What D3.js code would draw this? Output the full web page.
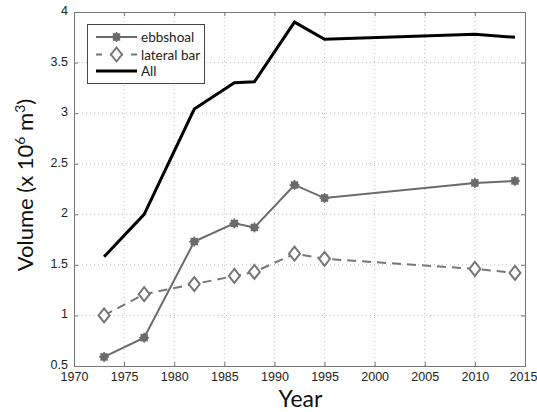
<!DOCTYPE html>
<html>
<head>
<meta charset="utf-8">
<script src="https://cdn.jsdelivr.net/npm/d3@7"></script>
<style>
  body { margin: 0; background: #fff; }
  svg { font-family: Lato, "Open Sans", sans-serif; }
</style>
</head>
<body>
<div id="chart"></div>
<script>
const years = [1973, 1977, 1982, 1986, 1988, 1992, 1995, 2010, 2014];
const ebbshoal = [0.59, 0.78, 1.73, 1.91, 1.87, 2.29, 2.16, 2.31, 2.33];
const lateralBar = [1.0, 1.21, 1.31, 1.39, 1.43, 1.61, 1.56, 1.46, 1.42];
const all = [1.58, 2.0, 3.04, 3.30, 3.31, 3.90, 3.73, 3.78, 3.75];
const xTicks = [1970, 1975, 1980, 1985, 1990, 1995, 2000, 2005, 2010, 2015];
const yTicks = [0.5, 1, 1.5, 2, 2.5, 3, 3.5, 4];

const width = 537, height = 412;
const margin = { top: 12, right: 12, bottom: 46, left: 74 };

const svg = d3.select('#chart').append('svg')
  .attr('width', width)
  .attr('height', height);

const x = d3.scaleLinear().domain([1970, 2015]).range([margin.left, width - margin.right]);
const y = d3.scaleLinear().domain([0.5, 4]).range([height - margin.bottom, margin.top]);

// grid
const grid = svg.append('g').attr('stroke', '#bbb').attr('stroke-dasharray', '1,3').attr('stroke-width', 1);
grid.selectAll('.gx').data(xTicks.slice(1, -1)).enter().append('line')
  .attr('x1', d => x(d)).attr('x2', d => x(d))
  .attr('y1', y(0.5)).attr('y2', y(4));
grid.selectAll('.gy').data(yTicks.slice(1, -1)).enter().append('line')
  .attr('x1', x(1970)).attr('x2', x(2015))
  .attr('y1', d => y(d)).attr('y2', d => y(d));

// axes (ticks inside, mirrored)
const axisColor = '#777';
const axBottom = svg.append('g').attr('transform', `translate(0,${y(0.5)})`)
  .call(d3.axisBottom(x).tickValues(xTicks).tickFormat(d3.format('d')).tickSizeInner(-4).tickSizeOuter(0).tickPadding(6));
const axTop = svg.append('g').attr('transform', `translate(0,${y(4)})`)
  .call(d3.axisTop(x).tickValues(xTicks).tickFormat('').tickSizeInner(-4).tickSizeOuter(0));
const axLeft = svg.append('g').attr('transform', `translate(${x(1970)},0)`)
  .call(d3.axisLeft(y).tickValues(yTicks).tickFormat(d3.format('')).tickSizeInner(-4).tickSizeOuter(0).tickPadding(6));
const axRight = svg.append('g').attr('transform', `translate(${x(2015)},0)`)
  .call(d3.axisRight(y).tickValues(yTicks).tickFormat('').tickSizeInner(-4).tickSizeOuter(0));

[axBottom, axTop, axLeft, axRight].forEach(g => {
  g.select('.domain').attr('stroke', axisColor);
  g.selectAll('.tick line').attr('stroke', axisColor);
  g.selectAll('.tick text').attr('fill', '#222').style('font-size', '12.5px');
});
axLeft.selectAll('.tick text').attr('dy', '0.2em');
// last year label sits right at the edge
axBottom.selectAll('.tick text').filter(d => d === 2015).attr('dx', -2);

// axis labels
svg.append('text')
  .attr('x', (x(1970) + x(2015)) / 2 + 1)
  .attr('y', 407)
  .attr('text-anchor', 'middle')
  .style('font-size', '23px')
  .attr('fill', '#111')
  .text('Year');

const yl = svg.append('text')
  .attr('transform', `translate(33,${(y(0.5) + y(4)) / 2 - 4}) rotate(-90)`)
  .attr('text-anchor', 'middle')
  .style('font-size', '22px')
  .attr('fill', '#111');
yl.append('tspan').text('Volume (x 10');
yl.append('tspan').attr('dy', -8).style('font-size', '14px').text('6');
yl.append('tspan').attr('dy', 8).text(' m');
yl.append('tspan').attr('dy', -8).style('font-size', '14px').text('3');
yl.append('tspan').attr('dy', 8).text(')');

// series
const line = d3.line().x((d, i) => x(years[i])).y(d => y(d));
const grayA = '#6b6b6b', grayB = '#777';

svg.append('path').datum(ebbshoal).attr('d', line)
  .attr('fill', 'none').attr('stroke', grayA).attr('stroke-width', 2);
svg.append('path').datum(lateralBar).attr('d', line)
  .attr('fill', 'none').attr('stroke', grayB).attr('stroke-width', 2).attr('stroke-dasharray', '9,6');
svg.append('path').datum(all).attr('d', line)
  .attr('fill', 'none').attr('stroke', '#000').attr('stroke-width', 3);

function starMarker(g, cx, cy) {
  g.append('circle').attr('cx', cx).attr('cy', cy).attr('r', 4).attr('fill', grayA);
  [0, 45, 90, 135].forEach(a => {
    const r = 5, t = a * Math.PI / 180;
    g.append('line')
      .attr('x1', cx - r * Math.cos(t)).attr('y1', cy - r * Math.sin(t))
      .attr('x2', cx + r * Math.cos(t)).attr('y2', cy + r * Math.sin(t))
      .attr('stroke', grayA).attr('stroke-width', 1.5);
  });
}
function diamondMarker(g, cx, cy) {
  g.append('path')
    .attr('d', `M${cx},${cy - 7}L${cx + 5.5},${cy}L${cx},${cy + 7}L${cx - 5.5},${cy}Z`)
    .attr('fill', '#fff').attr('stroke', grayB).attr('stroke-width', 2);
}

const mk = svg.append('g');
ebbshoal.forEach((v, i) => starMarker(mk, x(years[i]), y(v)));
lateralBar.forEach((v, i) => diamondMarker(mk, x(years[i]), y(v)));

// legend
const lg = svg.append('g');
lg.append('rect').attr('x', 87.5).attr('y', 24.5).attr('width', 117).attr('height', 59)
  .attr('fill', '#fff').attr('stroke', '#444').attr('stroke-width', 1);
const rows = [
  { name: 'ebbshoal', y: 37 },
  { name: 'lateral bar', y: 54.5 },
  { name: 'All', y: 71 }
];
lg.append('line').attr('x1', 96).attr('x2', 137).attr('y1', rows[0].y).attr('y2', rows[0].y)
  .attr('stroke', grayA).attr('stroke-width', 2);
starMarker(lg, 116.5, rows[0].y);
lg.append('line').attr('x1', 96).attr('x2', 137).attr('y1', rows[1].y).attr('y2', rows[1].y)
  .attr('stroke', grayB).attr('stroke-width', 2).attr('stroke-dasharray', '6,8,13,8,6');
diamondMarker(lg, 116.5, rows[1].y);
lg.append('line').attr('x1', 96).attr('x2', 137).attr('y1', rows[2].y).attr('y2', rows[2].y)
  .attr('stroke', '#000').attr('stroke-width', 3);
lg.selectAll('.lt').data(rows).enter().append('text')
  .attr('x', 141).attr('y', d => d.y + 5)
  .style('font-size', '13.5px').attr('fill', '#222')
  .text(d => d.name);
</script>
</body>
</html>
